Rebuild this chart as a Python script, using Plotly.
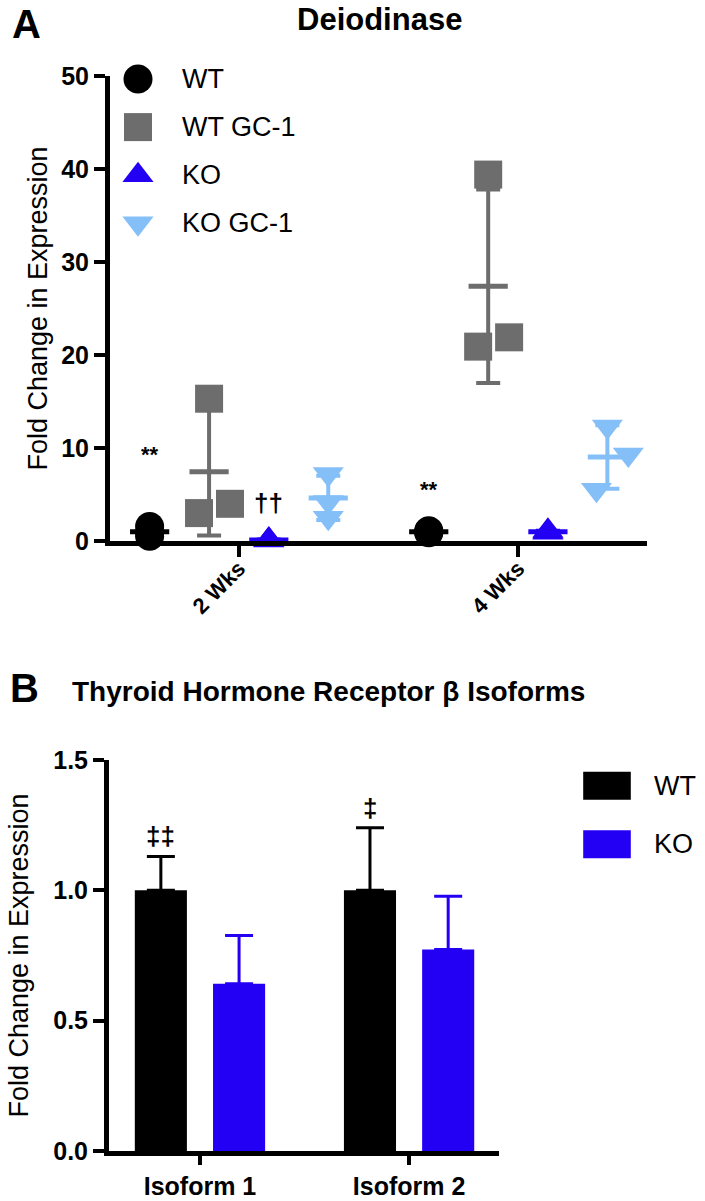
import numpy as np
import plotly.graph_objects as go

# ---------------- Panel A data ----------------
timepoints = ["2 Wks", "4 Wks"]
groups_a = ["WT", "WT GC-1", "KO", "KO GC-1"]
wt_vals = [[0.5, 0.95, 1.55], [0.9, 1.0, 1.1]]
wtgc1_vals = [[15.3, 3.0, 4.0], [39.4, 20.9, 21.9]]
ko_vals = [[0.05, 0.1, 0.15], [0.9, 1.0, 1.1]]
kogc1_vals = [[7.2, 4.2, 2.5], [12.3, 9.3, 5.5]]
sig_a_text = ["**", "††", "**"]
sig_a_group = ["WT", "KO", "WT"]
sig_a_time = [0, 0, 1]
sig_a_y = [9.3, 4.1, 5.5]

# ---------------- Panel B data ----------------
isoforms = ["Isoform 1", "Isoform 2"]
groups_b = ["WT", "KO"]
wt_bar = [1.0, 1.0]
wt_err = [0.13, 0.24]
ko_bar = [0.642, 0.773]
ko_err = [0.185, 0.204]
sig_b_text = ["‡‡", "‡"]
sig_b_y = [1.21, 1.315]

# ---------------- styles ----------------
FONT = "Liberation Sans, Arial, Helvetica, sans-serif"
colors_a = {"WT": "#000000", "WT GC-1": "#6D6D6D", "KO": "#2300F4", "KO GC-1": "#85BFF8"}
symbols_a = {"WT": "circle", "WT GC-1": "square", "KO": "triangle-up", "KO GC-1": "triangle-down"}
sizes_a = {"WT": 29, "WT GC-1": 28, "KO": 27, "KO GC-1": 27}
offsets_a = {"WT": -0.32, "WT GC-1": -0.107, "KO": 0.107, "KO GC-1": 0.32}
jitter_a = {
    "WT": [[0, 0, 0], [0, 0, 0]],
    "WT GC-1": [[0, -0.036, 0.075], [0, -0.036, 0.075]],
    "KO": [[0, 0, 0], [0, 0, 0]],
    "KO GC-1": [[0, 0, 0], [0, 0.075, -0.039]],
}
data_a = {"WT": wt_vals, "WT GC-1": wtgc1_vals, "KO": ko_vals, "KO GC-1": kogc1_vals}
colors_b = {"WT": "#000000", "KO": "#2300F4"}

W, H = 705, 1201
def px_x(p):
    return p / W
def px_y(p):
    return 1 - p / H

fig = go.Figure()

# ---- Panel A: mean + SD lines, then points ----
for g in groups_a:
    vals = data_a[g]
    means = [float(np.mean(v)) for v in vals]
    sds = [float(np.std(v, ddof=1)) for v in vals]
    xs = [i + offsets_a[g] for i in range(len(timepoints))]
    fig.add_trace(go.Scatter(
        x=xs, y=means, mode="markers", xaxis="x", yaxis="y",
        marker=dict(symbol="line-ew", size=28, color=colors_a[g], opacity=1,
                    line=dict(color=colors_a[g], width=5)),
        error_y=dict(type="data", array=sds, visible=True, color=colors_a[g],
                     thickness=4, width=12),
        showlegend=False, cliponaxis=False, hoverinfo="skip"))
for g in groups_a:
    vals = data_a[g]
    xs, ys = [], []
    for i, v in enumerate(vals):
        for j, val in enumerate(v):
            xs.append(i + offsets_a[g] + jitter_a[g][i][j])
            ys.append(val)
    fig.add_trace(go.Scatter(
        x=xs, y=ys, mode="markers", xaxis="x", yaxis="y", name=g,
        marker=dict(symbol=symbols_a[g], size=sizes_a[g], color=colors_a[g], opacity=1,
                    line=dict(width=0)),
        showlegend=False, cliponaxis=False))

# Panel A legend (own axes)
fig.add_trace(go.Scatter(
    x=[0] * len(groups_a), y=groups_a, mode="markers", xaxis="x3", yaxis="y3",
    marker=dict(symbol=[symbols_a[g] for g in groups_a], size=[sizes_a[g] for g in groups_a],
                color=[colors_a[g] for g in groups_a], opacity=1, line=dict(width=0)),
    showlegend=False, cliponaxis=False, hoverinfo="skip"))

annotations = []
for g in groups_a:
    annotations.append(dict(x=0.21, y=g, xref="x3", yref="y3", text=g, showarrow=False,
                            xanchor="left", yanchor="middle",
                            font=dict(family=FONT, size=27, color="#000")))

for t, g, ti, yv in zip(sig_a_text, sig_a_group, sig_a_time, sig_a_y):
    annotations.append(dict(x=ti + offsets_a[g], y=yv, xref="x", yref="y", text=t,
                            showarrow=False, xanchor="center", yanchor="middle",
                            font=dict(family=FONT, size=22 if t == "**" else 26, color="#000",
                                      weight="bold")))

# ---- Panel B: bars ----
fig.add_trace(go.Bar(
    x=isoforms, y=wt_bar, name="WT", xaxis="x2", yaxis="y2",
    marker=dict(color=colors_b["WT"], line=dict(width=0)),
    error_y=dict(type="data", array=wt_err, arrayminus=[0] * len(wt_err), symmetric=False,
                 color=colors_b["WT"], thickness=3, width=14),
    showlegend=False))
fig.add_trace(go.Bar(
    x=isoforms, y=ko_bar, name="KO", xaxis="x2", yaxis="y2",
    marker=dict(color=colors_b["KO"], line=dict(width=0)),
    error_y=dict(type="data", array=ko_err, arrayminus=[0] * len(ko_err), symmetric=False,
                 color=colors_b["KO"], thickness=3, width=14),
    showlegend=False))

# Panel B legend (own axes)
fig.add_trace(go.Scatter(
    x=[0] * len(groups_b), y=groups_b, mode="markers", xaxis="x4", yaxis="y4",
    marker=dict(symbol="line-ew", size=34, color=[colors_b[g] for g in groups_b], opacity=1,
                line=dict(color=[colors_b[g] for g in groups_b], width=28)),
    showlegend=False, cliponaxis=False, hoverinfo="skip"))
for g in groups_b:
    annotations.append(dict(x=0.484, y=g, xref="x4", yref="y4", text=g, showarrow=False,
                            xanchor="left", yanchor="middle",
                            font=dict(family=FONT, size=27, color="#000")))

bar_off = 0.187
for i, (t, yv) in enumerate(zip(sig_b_text, sig_b_y)):
    annotations.append(dict(x=i - bar_off, y=yv, xref="x2", yref="y2", text=t,
                            showarrow=False, xanchor="center", yanchor="middle",
                            font=dict(family=FONT, size=26, color="#000", weight="bold")))

# Panel titles / letters
annotations += [
    dict(x=px_x(10), y=px_y(0), xref="paper", yref="paper", text="<b>A</b>", showarrow=False,
         xanchor="left", yanchor="top", font=dict(family=FONT, size=40, color="#000")),
    dict(x=px_x(379), y=px_y(0), xref="paper", yref="paper", text="<b>Deiodinase</b>",
         showarrow=False, xanchor="center", yanchor="top",
         font=dict(family=FONT, size=31, color="#000")),
    dict(x=px_x(8), y=px_y(664), xref="paper", yref="paper", text="<b>B</b>", showarrow=False,
         xanchor="left", yanchor="top", font=dict(family=FONT, size=40, color="#000")),
    dict(x=px_x(70), y=px_y(674), xref="paper", yref="paper",
         text="<b>Thyroid Hormone Receptor β Isoforms</b>", showarrow=False,
         xanchor="left", yanchor="top", font=dict(family=FONT, size=28, color="#000")),
]

axis_common = dict(showline=True, linecolor="#000", linewidth=5, ticks="outside",
                   tickwidth=4, tickcolor="#000", showgrid=False,
                   zeroline=False, mirror=False, automargin=False)

fig.update_layout(
    template="none",
    width=W, height=H, margin=dict(l=0, r=0, t=0, b=0, pad=0, autoexpand=False),
    paper_bgcolor="white", plot_bgcolor="white",
    font=dict(family=FONT, color="#000"),
    barmode="group", bargap=0.252, bargroupgap=0.334,
    showlegend=False,
    xaxis=dict(domain=[px_x(110), px_x(647)], range=[-0.462, 1.462],
               tickvals=list(range(len(timepoints))), ticktext=timepoints,
               tickangle=-45, tickfont=dict(family=FONT, size=22, weight="bold"),
               ticklen=11, ticklabelstandoff=-10,
               anchor="y", **axis_common),
    yaxis=dict(domain=[px_y(541), px_y(76)], range=[0, 50], dtick=10, ticklen=11,
               tickfont=dict(family=FONT, size=25, weight="bold"),
               title=dict(text="Fold Change in Expression", font=dict(family=FONT, size=27),
                          standoff=7),
               anchor="x", **axis_common),
    xaxis2=dict(domain=[px_x(109), px_x(499)], range=[-0.435, 1.43], type="category",
                tickfont=dict(family=FONT, size=25, weight="bold"), ticklen=9,
                anchor="y2", **axis_common),
    yaxis2=dict(domain=[px_y(1151), px_y(760)], range=[0, 1.5], dtick=0.5, tickformat=".1f",
                ticklen=11, tickfont=dict(family=FONT, size=25, weight="bold"),
                title=dict(text="Fold Change in Expression", font=dict(family=FONT, size=27),
                           standoff=18),
                anchor="x2", **axis_common),
    xaxis3=dict(domain=[px_x(138), px_x(338)], range=[0, 1], visible=False, anchor="y3"),
    yaxis3=dict(domain=[px_y(250), px_y(51)], type="category", autorange="reversed",
                visible=False, anchor="x3"),
    xaxis4=dict(domain=[px_x(607), px_x(700)], range=[0, 1], visible=False, anchor="y4"),
    yaxis4=dict(domain=[px_y(871), px_y(759)], type="category", autorange="reversed",
                visible=False, anchor="x4"),
    annotations=annotations,
)

fig.write_html("out.html", config={"displayModeBar": False},
               post_script="document.body.style.margin='0';document.body.style.overflow='hidden';")
